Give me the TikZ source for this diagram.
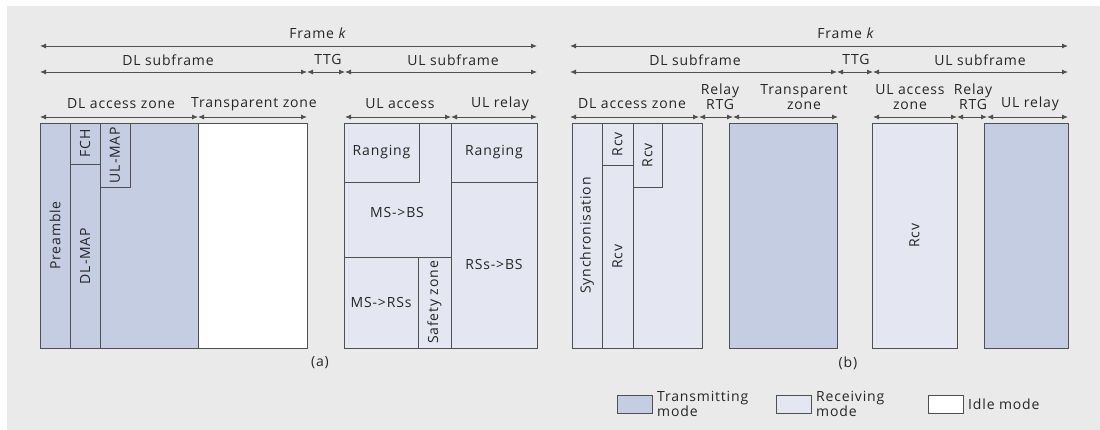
\documentclass[tikz,border=0pt]{standalone}
\usepackage{fontspec}
\setmainfont{Open Sans}[LetterSpace=6]
\usetikzlibrary{arrows.meta,positioning}
\definecolor{txblue}{RGB}{197,205,226}
\definecolor{rxblue}{RGB}{228,230,242}
\definecolor{bggrey}{RGB}{234,234,234}
\definecolor{lngrey}{RGB}{80,80,80}
\begin{document}
\begin{tikzpicture}[x=1pt, y=-1pt, every node/.style={font=\fontsize{14}{15}\selectfont, text=black!85},
  blk/.style={draw=lngrey, line width=0.9pt, anchor=north west, inner sep=0pt, outer sep=0pt},
  dim/.style={draw=lngrey, line width=0.9pt, {Latex[length=6pt,width=5pt]}-{Latex[length=6pt,width=5pt]}},
  lbl/.style={inner sep=0pt, align=center}]
\useasboundingbox (0,0) rectangle (1100,430);
\fill[bggrey] (7,6) rectangle (1100,430);
% (a) time axis
\coordinate (aF0) at (40,46);  \coordinate (aF1) at (537,46);
\coordinate (aS0) at (40,72);  \coordinate (aS1) at (307,72);
\coordinate (aS2) at (345,72); \coordinate (aS3) at (537,72);
\coordinate (aZ0) at (40,117); \coordinate (aZ1) at (198,117); \coordinate (aZ2) at (307,117);
\coordinate (aZ3) at (345,117); \coordinate (aZ4) at (451,117); \coordinate (aZ5) at (537,117);
\draw[dim] (aF0) -- (aF1);
\draw[dim] (aS0) -- (aS1);
\draw[dim] (aS1) -- (aS2);
\draw[dim] (aS2) -- (aS3);
\draw[dim] (aZ0) -- (aZ1);
\draw[dim] (aZ1) -- (aZ2);
\draw[dim] (aZ3) -- (aZ4);
\draw[dim] (aZ4) -- (aZ5);
\node[lbl] (aFrame) at (318,33) {Frame \textit{k}};
\node[lbl] (aDLsub) at (168,60) {DL subframe};
\node[lbl] (aTTG) at (328,60) {TTG};
\node[lbl] (aULsub) at (453,60) {UL subframe};
\node[lbl] (aDLacc) at (121,104) {DL access zone};
\node[lbl] (aTrans) at (254,104) {Transparent zone};
\node[lbl] (aULacc) at (400,104) {UL access};
\node[lbl] (aULrel) at (500,104) {UL relay};
% (a) DL subframe
\node[blk, fill=txblue, minimum width=158, minimum height=225] (dlA) at (40,123) {};
\node[blk, fill=txblue, minimum width=30, minimum height=225] (pre) at (40,123) {\rotatebox{90}{Preamble}};
\node[blk, fill=txblue, minimum width=30, minimum height=41] (fch) at (70,123) {\rotatebox{90}{FCH}};
\node[blk, fill=txblue, minimum width=30, minimum height=184] (dlmap) at (70,164) {\rotatebox{90}{DL-MAP}};
\node[blk, fill=txblue, minimum width=30, minimum height=64] (ulmap) at (100,123) {\rotatebox{90}{UL-MAP}};
\node[blk, fill=white, minimum width=109, minimum height=225] (trA) at (198,123) {};
% (a) UL subframe
\node[blk, fill=rxblue, minimum width=107, minimum height=225] (ulaccA) at (344,123) {};
\node[blk, fill=rxblue, minimum width=75, minimum height=59] (rngA) at (344,123) {Ranging};
\node[lbl] (msbs) at (397,213) {MS->BS};
\node[blk, fill=rxblue, minimum width=74, minimum height=91] (msrs) at (344,257) {MS->RSs};
\node[blk, fill=rxblue, minimum width=33, minimum height=91] (safe) at (418,257) {\rotatebox{90}{Safety zone}};
\node[blk, fill=rxblue, minimum width=86, minimum height=225] (ulrelA) at (451,123) {};
\node[blk, fill=rxblue, minimum width=86, minimum height=59] (rngB) at (451,123) {Ranging};
\node[blk, fill=rxblue, minimum width=86, minimum height=166] (rsbs) at (451,182) {RSs->BS};
\node[lbl] (capA) at (320,363) {(a)};
% (b) time axis
\coordinate (bF0) at (570,46);  \coordinate (bF1) at (1068,46);
\coordinate (bS0) at (570,72);  \coordinate (bS1) at (837,72);
\coordinate (bS2) at (873,72);  \coordinate (bS3) at (1068,72);
\coordinate (bZ0) at (570,117); \coordinate (bZ1) at (699,117); \coordinate (bZ2) at (733,117);
\coordinate (bZ3) at (838,117); \coordinate (bZ4) at (873,117); \coordinate (bZ5) at (957,117);
\coordinate (bZ6) at (987,117); \coordinate (bZ7) at (1068,117);
\draw[dim] (bF0) -- (bF1);
\draw[dim] (bS0) -- (bS1);
\draw[dim] (bS1) -- (bS2);
\draw[dim] (bS2) -- (bS3);
\draw[dim] (bZ0) -- (bZ1);
\draw[dim] (bZ1) -- (bZ2);
\draw[dim] (bZ2) -- (bZ3);
\draw[dim] (bZ4) -- (bZ5);
\draw[dim] (bZ5) -- (bZ6);
\draw[dim] (bZ6) -- (bZ7);
\node[lbl] (bFrame) at (846,33) {Frame \textit{k}};
\node[lbl] (bDLsub) at (695,60) {DL subframe};
\node[lbl] (bTTG) at (856,60) {TTG};
\node[lbl] (bULsub) at (980,60) {UL subframe};
\node[lbl] (bDLacc) at (632,104) {DL access zone};
\node[lbl, anchor=south] (bRTG1) at (720,110) {Relay\\RTG};
\node[lbl, anchor=south] (bTrans) at (804,110) {Transparent\\zone};
\node[lbl, anchor=south] (bULacc) at (910,110) {UL access\\zone};
\node[lbl, anchor=south] (bRTG2) at (973,110) {Relay\\RTG};
\node[lbl] (bULrel) at (1030,104) {UL relay};
% (b) relay station
\node[blk, fill=rxblue, minimum width=130, minimum height=225] (dlB) at (572,123) {};
\node[blk, fill=rxblue, minimum width=30, minimum height=225] (sync) at (572,123) {\rotatebox{90}{Synchronisation}};
\node[blk, fill=rxblue, minimum width=31, minimum height=42] (rcv1) at (602,123) {\rotatebox{90}{Rcv}};
\node[blk, fill=rxblue, minimum width=31, minimum height=183] (rcv2) at (602,165) {\rotatebox{90}{Rcv}};
\node[blk, fill=rxblue, minimum width=29, minimum height=64] (rcv3) at (633,123) {\rotatebox{90}{Rcv}};
\node[blk, fill=txblue, minimum width=108, minimum height=225] (trB) at (729,123) {};
\node[blk, fill=rxblue, minimum width=85, minimum height=225] (ulaccB) at (872,123) {\rotatebox{90}{Rcv}};
\node[blk, fill=txblue, minimum width=84, minimum height=225] (ulrelB) at (984,123) {};
\node[lbl] (capB) at (848,363) {(b)};
% legend
\node[blk, fill=txblue, minimum width=35, minimum height=18] (keyTx) at (617,395) {};
\node[lbl, align=left, anchor=west] (keyTxT) at (657,404) {Transmitting\\mode};
\node[blk, fill=rxblue, minimum width=35, minimum height=18] (keyRx) at (776,395) {};
\node[lbl, align=left, anchor=west] (keyRxT) at (816,404) {Receiving\\mode};
\node[blk, fill=white, minimum width=35, minimum height=18] (keyId) at (928,395) {};
\node[lbl, anchor=west] (keyIdT) at (968,404) {Idle mode};
\end{tikzpicture}
\end{document}
